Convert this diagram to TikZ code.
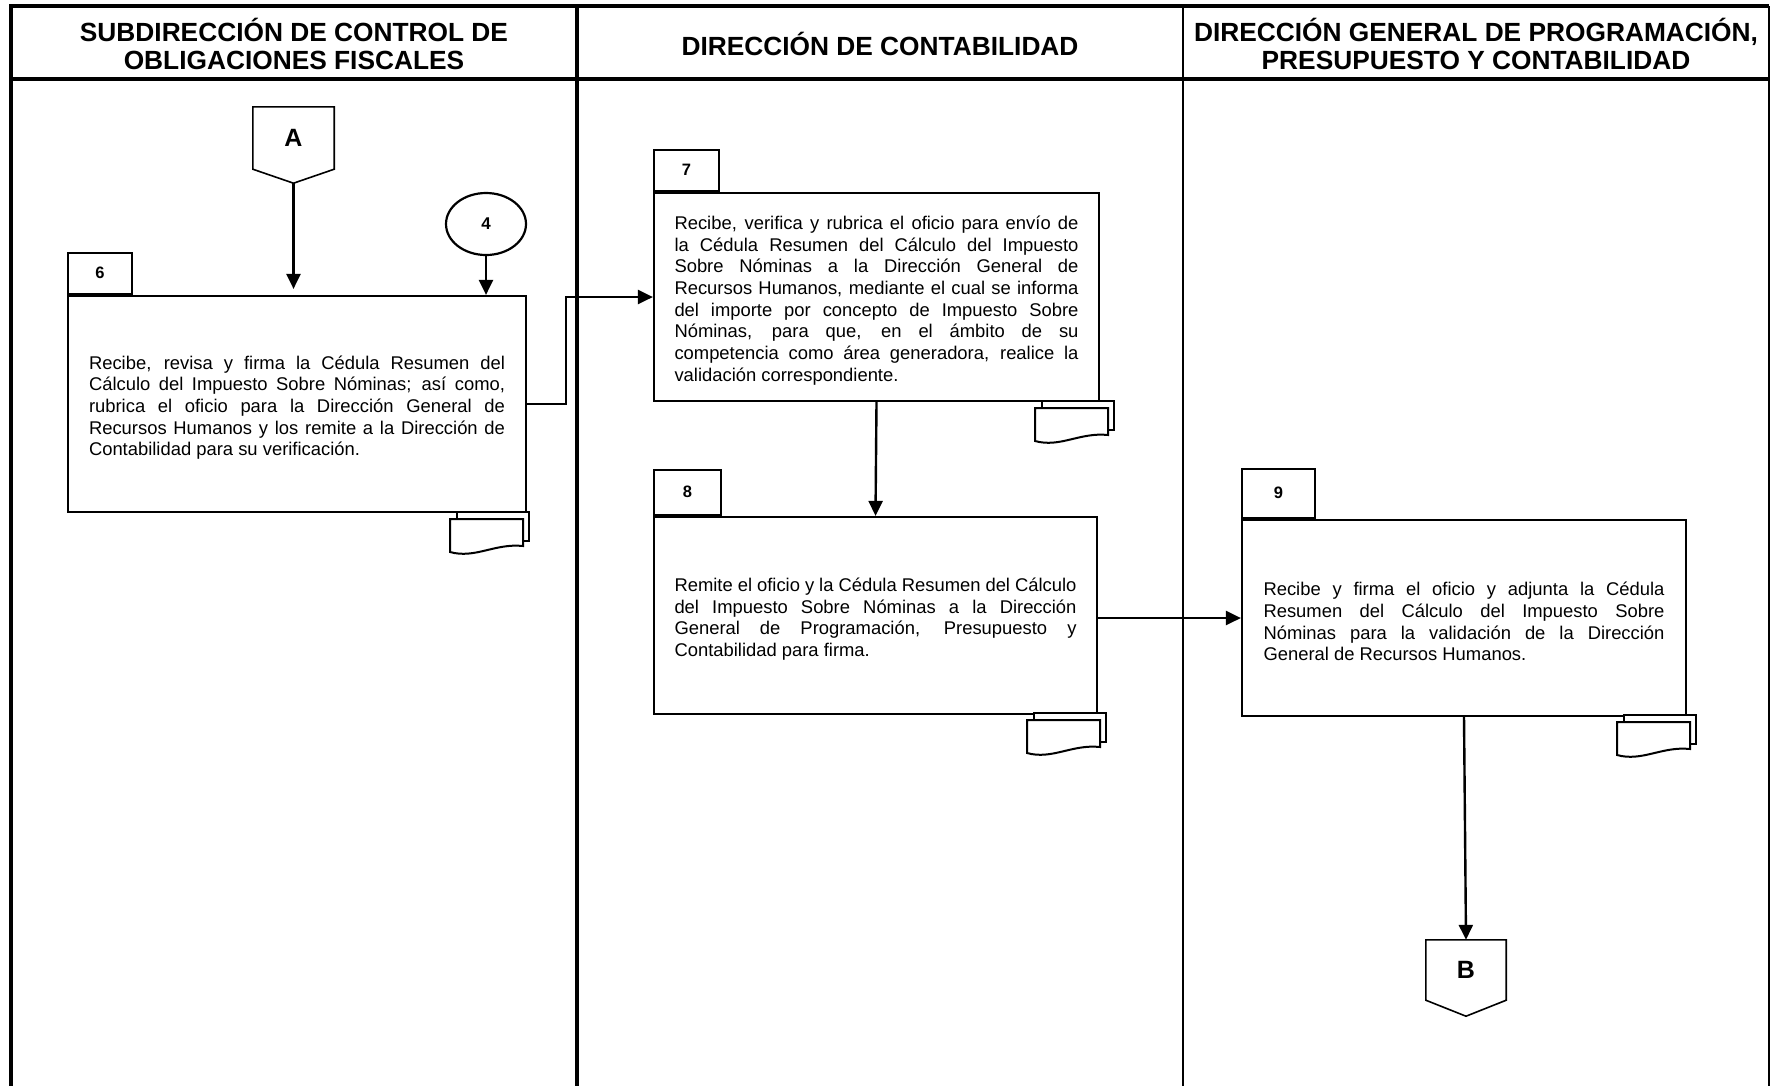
\documentclass[tikz,border=0pt]{standalone}
\usepackage{fontspec}
\setmainfont{Liberation Sans}
\usetikzlibrary{arrows.meta,shapes.geometric}
\tolerance=9999
\hyphenpenalty=10000
\exhyphenpenalty=10000

% stacked document sheets hanging below a process box
% #1 = right edge of the back sheet, #2 = bottom edge of the box
\newcommand{\docstack}[2]{%
  \draw[sheet] ({#1-72},{#2}) rectangle ({#1},{#2+29});
  \draw[sheet] ({#1-79},{#2+7}) -- ({#1-6},{#2+7}) -- ({#1-6},{#2+34})
    .. controls ({#1-34},{#2+31}) and ({#1-54},{#2+47}) .. ({#1-79},{#2+40}) -- cycle;
}

\begin{document}
\begin{tikzpicture}[x=1pt,y=-1pt,
  frame/.style={line width=3.4pt},
  thinframe/.style={line width=2.2pt},
  lanetitle/.style={font=\fontsize{26.3}{28.5}\selectfont\bfseries, align=center, inner sep=0pt},
  procbox/.style={draw, line width=2.2pt, fill=white, inner sep=0pt, align=justify,
    font=\fontsize{18.4}{21.7}\selectfont, execute at begin node={\rule{0pt}{20.7pt}}},
  tabbox/.style={draw, line width=2.2pt, inner sep=0pt, anchor=south west,
    font=\fontsize{16.5}{18}\selectfont\bfseries},
  offpage/.style={inner sep=0pt, font=\fontsize{25}{27}\selectfont\bfseries},
  pentagon/.style={line width=1.6pt, line join=miter},
  refcircle/.style={draw, ellipse, line width=2.2pt, inner sep=0pt,
    font=\fontsize{17}{18}\selectfont\bfseries},
  link/.style={line width=2.4pt, -{Triangle[length=15pt,width=14pt]}},
  sheet/.style={draw, line width=2pt, fill=white, line join=miter},
]
\useasboundingbox (0,0) rectangle (1771,1085);

% swimlane frame
\draw[frame] (11,1090) -- (11,6) -- (1769,6);
\draw[thinframe] (1769,6) -- (1769,1090);
\draw[frame] (11,79) -- (1769,79);
\draw[frame] (577,6) -- (577,1090);
\draw[thinframe] (1183,6) -- (1183,1090);

% lane titles
\node[lanetitle] (h1) at (294,44) {SUBDIRECCIÓN DE CONTROL DE\\OBLIGACIONES FISCALES};
\node[lanetitle] (h2) at (880,44) {DIRECCIÓN DE CONTABILIDAD};
\node[lanetitle] (h3) at (1476,44) {DIRECCIÓN GENERAL DE PROGRAMACIÓN,\\PRESUPUESTO Y CONTABILIDAD};

% process boxes
\node[procbox, minimum width=458pt, minimum height=216pt, text width=416pt] (b6) at (297,404)
  {Recibe, revisa y firma la Cédula Resumen del\linebreak
   Cálculo del Impuesto Sobre Nóminas; así como,\linebreak
   rubrica el oficio para la Dirección General de\linebreak
   Recursos Humanos y los remite a la Dirección de\linebreak
   Contabilidad para su verificación.};
\node[procbox, minimum width=445pt, minimum height=208pt, text width=404pt] (b7) at (876.5,297)
  {Recibe, verifica y rubrica el oficio para envío de\linebreak
   la Cédula Resumen del Cálculo del Impuesto\linebreak
   Sobre Nóminas a la Dirección General de\linebreak
   Recursos Humanos, mediante el cual se informa\linebreak
   del importe por concepto de Impuesto Sobre\linebreak
   Nóminas, para que, en el ámbito de su\linebreak
   competencia como área generadora, realice la\linebreak
   validación correspondiente.};
\node[procbox, minimum width=443pt, minimum height=197pt, text width=402pt] (b8) at (875.5,615.5)
  {Remite el oficio y la Cédula Resumen del Cálculo\linebreak
   del Impuesto Sobre Nóminas a la Dirección\linebreak
   General de Programación, Presupuesto y\linebreak
   Contabilidad para firma.};
\node[procbox, minimum width=444pt, minimum height=196pt, text width=401pt] (b9) at (1464,618)
  {Recibe y firma el oficio y adjunta la Cédula\linebreak
   Resumen del Cálculo del Impuesto Sobre\linebreak
   Nóminas para la validación de la Dirección\linebreak
   General de Recursos Humanos.};

% step number tabs
\node[tabbox, minimum width=64pt, minimum height=41pt] (t6) at (b6.north west) {6};
\node[tabbox, minimum width=65pt, minimum height=41pt] (t7) at (b7.north west) {7};
\node[tabbox, minimum width=67pt, minimum height=45pt] (t8) at (b8.north west) {8};
\node[tabbox, minimum width=73pt, minimum height=49pt] (t9) at (b9.north west) {9};

% document symbols
\docstack{529}{512}
\docstack{1114}{401}
\docstack{1106}{713}
\docstack{1696}{715}

% off-page connectors
\node[offpage, minimum width=81pt, minimum height=62pt] (A) at (293.5,138) {A};
\draw[pentagon] (A.north west) -- (A.north east) -- (A.south east)
  -- ([yshift=-14pt]A.south) -- (A.south west) -- cycle;
\coordinate (Atip) at ([yshift=-14pt]A.south);

\node[offpage, minimum width=80pt, minimum height=60pt] (B) at (1466,970) {B};
\draw[pentagon] (B.north west) -- (B.north east) -- (B.south east)
  -- ([yshift=-16pt]B.south) -- (B.south west) -- cycle;

% on-page connector
\node[refcircle, minimum width=80pt, minimum height=62pt] (c4) at (486,224) {4};

% flow
\coordinate (j1) at (566,350);
\draw[link, shorten >=6pt] (Atip) -- (Atip |- b6.north);
\draw[link] (c4.south) -- (c4.south |- b6.north);
\draw[link] (b6.east) -| (j1) |- (b7.west);
\draw[link] (b7.south) -- (b8.north);
\draw[link] (b8.east |- b9.west) -- (b9.west);
\draw[link] (b9.south) -- (B.north);
\end{tikzpicture}
\end{document}
